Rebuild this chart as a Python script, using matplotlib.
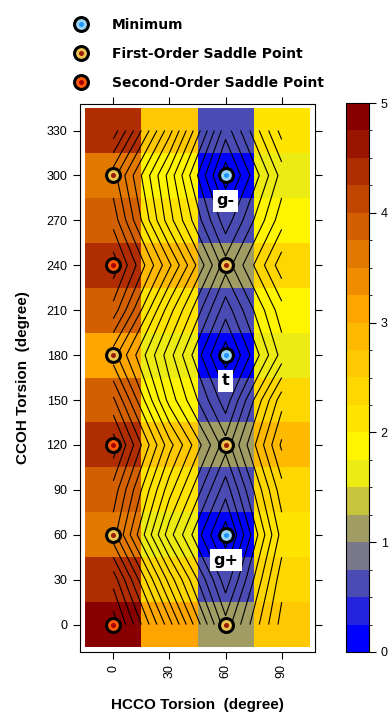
import numpy as np
import matplotlib
matplotlib.use('Agg')
import matplotlib.pyplot as plt
from matplotlib.colors import ListedColormap, BoundaryNorm
from matplotlib.lines import Line2D

plt.rcParams['font.family'] = ['Liberation Sans', 'DejaVu Sans']

# grid of torsion angles (degree)
hcco = [0, 30, 60, 90]
ccoh = [0, 30, 60, 90, 120, 150, 180, 210, 240, 270, 300, 330]

# relative energy, one list per HCCO column (rows follow ccoh)
energy_0 = [4.9, 4.4, 3.6, 3.9, 4.4, 3.8, 3.1, 3.9, 4.4, 3.9, 3.6, 4.4]
energy_30 = [3.1, 2.4, 1.6, 2.1, 2.6, 1.9, 1.6, 2.1, 2.8, 2.1, 1.9, 2.6]
energy_60 = [1.1, 0.6, 0.1, 0.6, 1.1, 0.6, 0.1, 0.6, 1.1, 0.6, 0.1, 0.6]
energy_90 = [2.6, 2.4, 2.1, 2.4, 2.8, 2.4, 1.6, 1.9, 2.4, 1.9, 1.6, 2.1]

# stationary points
min_x = [60, 60, 60]
min_y = [60, 180, 300]
ts1_x = [0, 0, 0, 60, 60, 60]
ts1_y = [60, 180, 300, 0, 120, 240]
ts2_x = [0, 0, 0]
ts2_y = [0, 120, 240]
conf_labels = ['g+', 't', 'g-']
conf_y = [43, 163, 283]

levels = np.arange(0, 5.01, 0.25)
colors = ['#0000FF', '#2323DC', '#4B4BB4', '#78788A', '#A09C64',
          '#C8C43C', '#ECEC14', '#FFF500', '#FFE400', '#FFD700',
          '#FFC800', '#FFB900', '#FFA500', '#F08C00', '#E37800',
          '#D25F00', '#C04600', '#AF2D00', '#9B1400', '#880000']
cmap = ListedColormap(colors)
norm = BoundaryNorm(levels, cmap.N)

Z = np.array([energy_0, energy_30, energy_60, energy_90]).T
x_edges = np.append(np.array(hcco) - 15, hcco[-1] + 15)
y_edges = np.append(np.array(ccoh) - 15, ccoh[-1] + 15)

fig = plt.figure(figsize=(3.89, 7.18), dpi=100)
ax = fig.add_axes([80 / 389, 1 - 652 / 718, 235 / 389, 548 / 718])
cax = fig.add_axes([346 / 389, 1 - 652 / 718, 23 / 389, 549 / 718])

mesh = ax.pcolormesh(x_edges, y_edges, Z, cmap=cmap, norm=norm)
ax.contour(hcco, ccoh, Z, levels=levels[1:-1], colors='black', linewidths=0.8)

def draw_points(xs, ys, fill, dot, **kw):
    ax.plot(xs, ys, 'o', ms=10, mfc=fill, mec='black', mew=2.2, ls='none', zorder=5)
    ax.plot(xs, ys, 'o', ms=3.6, mfc=dot, mec='none', ls='none', zorder=6)

min_fill, min_dot = '#9BD3F5', '#1E96FF'
ts1_fill, ts1_dot = '#EBC350', '#9B1B0A'
ts2_fill, ts2_dot = '#FF5A0A', '#AA0000'
draw_points(min_x, min_y, min_fill, min_dot)
draw_points(ts1_x, ts1_y, ts1_fill, ts1_dot)
draw_points(ts2_x, ts2_y, ts2_fill, ts2_dot)

for lab, y in zip(conf_labels, conf_y):
    ax.text(60, y, lab, ha='center', va='center', fontsize=11.5, fontweight='bold',
            family='DejaVu Sans', zorder=7,
            bbox=dict(facecolor='white', edgecolor='none', pad=2.5))

ax.set_xlim(-17.8, 107.8)
ax.set_ylim(-18.3, 347.7)
ax.set_xticks(hcco)
ax.set_xticklabels([str(v) for v in hcco], rotation=90)
ax.set_yticks(ccoh)
ax.tick_params(direction='out', top=True, right=True, length=5, width=0.8,
               labelsize=9, pad=4)
for s in ax.spines.values():
    s.set_linewidth(0.8)
ax.set_xlabel('HCCO Torsion  (degree)', fontsize=11, fontweight='bold', labelpad=14)
ax.set_ylabel('CCOH Torsion  (degree)', fontsize=11, fontweight='bold', labelpad=12)

cb = fig.colorbar(mesh, cax=cax, ticks=range(6))
cb.outline.set_linewidth(0.8)
cax.tick_params(length=5, width=0.8, labelsize=9)

# legend on top
def handle(fill, dot):
    return (Line2D([], [], marker='o', ms=10, mfc=fill, mec='black', mew=2.2, ls='none'),
            Line2D([], [], marker='o', ms=3.6, mfc=dot, mec='none', ls='none'))

fig.legend([handle(min_fill, min_dot), handle(ts1_fill, ts1_dot), handle(ts2_fill, ts2_dot)],
           ['Minimum', 'First-Order Saddle Point', 'Second-Order Saddle Point'],
           loc='upper left', bbox_to_anchor=(74 / 389, 1 - 18 / 718), frameon=False,
           prop={'family': 'DejaVu Sans', 'weight': 'bold', 'size': 10},
           handlelength=1.0, handletextpad=1.75, labelspacing=1.08,
           borderpad=0, borderaxespad=0)

fig.savefig('out.png', dpi=100)
